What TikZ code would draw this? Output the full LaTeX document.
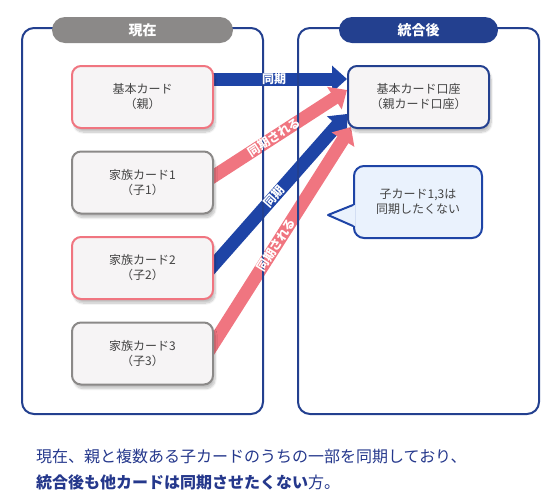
\documentclass[tikz,border=0pt]{standalone}
\usepackage{fontspec}
\setmainfont{Noto Sans CJK JP}
\usetikzlibrary{positioning,arrows.meta,backgrounds,shadows.blur}
\definecolor{waku}{RGB}{35,64,143}
\definecolor{haiiro}{RGB}{139,137,136}
\definecolor{aoya}{RGB}{30,68,166}
\definecolor{momo}{RGB}{240,117,128}
\definecolor{kamifill}{RGB}{246,244,245}
\definecolor{mojiiro}{RGB}{68,68,68}
\definecolor{fukidashi}{RGB}{234,242,253}
\definecolor{setsumeiiro}{RGB}{37,56,140}

\tikzset{
  panel/.style={draw=waku, line width=2pt, rounded corners=12pt, minimum width=241pt, minimum height=386pt},
  pill/.style={rounded corners=13pt, minimum height=26pt, text=white, font=\fontsize{14}{16}\selectfont\bfseries},
  card/.style={fill=kamifill, line width=2pt, rounded corners=9pt, minimum width=141pt, minimum height=62pt,
    align=center, text=mojiiro, font=\fontsize{12}{15}\selectfont,
    blur shadow={shadow xshift=2pt, shadow yshift=-4pt, shadow opacity=25, shadow blur steps=8}},
  oyacard/.style={card, draw=momo},
  kocard/.style={card, draw=haiiro},
  kouzacard/.style={card, draw=waku},
  aoarrow/.style={draw=aoya, line width=13pt, -{Triangle[width=26pt,length=15pt]}},
  momoarrow/.style={draw=momo, line width=13pt, -{Triangle[width=26pt,length=15pt]}},
  yajilabel/.style={text=white, font=\fontsize{12}{12}\selectfont\bfseries, inner sep=0pt, sloped, pos=0.49}
}

\begin{document}
\begin{tikzpicture}[x=1pt,y=-1pt]
  \useasboundingbox (0,0) rectangle (560,499);

  % waku
  \node[panel] (genzai) at (142.5,221) {};
  \node[panel] (tougou) at (418.5,221) {};
  \node[pill, fill=haiiro, minimum width=181pt] (genzaititle) at ([yshift=-3pt]genzai.north) {現在};
  \node[pill, fill=waku, minimum width=159pt] (tougoutitle) at ([yshift=-3pt]tougou.north) {統合後};

  % cards
  \node[oyacard] (kihon) at (142.5,97) {基本カード\\（親）};
  \node[kocard, below=21.5pt of kihon] (kazoku1) {家族カード1\\（子1）};
  \node[oyacard, below=21.5pt of kazoku1] (kazoku2) {家族カード2\\（子2）};
  \node[kocard, below=21.5pt of kazoku2] (kazoku3) {家族カード3\\（子3）};
  \node[kouzacard] (kouza) at (418.5,97) {基本カード口座\\（親カード口座）};

  % fukidashi
  \node[draw=aoya, fill=fukidashi, line width=2pt, rounded corners=10pt, minimum width=128pt, minimum height=72pt,
    align=center, text=mojiiro, font=\fontsize{12}{15}\selectfont] (kibou) at (418,202) {子カード1,3は\\同期したくない};
  \coordinate (saki) at (328,215);
  \fill[fukidashi] ([xshift=2pt,yshift=-3pt]kibou.west) -- (saki) -- ([xshift=2pt,yshift=-24pt]kibou.west) -- cycle;
  \draw[aoya, line width=2pt, line join=round] ([yshift=-3pt]kibou.west) -- (saki) -- ([yshift=-24pt]kibou.west);

  % yajirushi
  \begin{scope}[on background layer]
    \draw[aoarrow] ([xshift=-10pt,yshift=18pt]kihon.east) -- ([yshift=18pt]kouza.west);
    \draw[momoarrow] ([xshift=-10pt]kazoku1.east) -- ([yshift=7pt]kouza.west);
    \draw[aoarrow] ([xshift=-10pt,yshift=-8pt]kazoku2.east) -- ([yshift=-17pt]kouza.west);
    \draw[momoarrow] ([xshift=-10pt,yshift=-5pt]kazoku3.east) -- ([xshift=4pt,yshift=2pt]kouza.south west);
  \end{scope}
  \path ([xshift=-10pt,yshift=18pt]kihon.east) -- node[yajilabel] {同期} ([yshift=18pt]kouza.west);
  \path ([xshift=-10pt]kazoku1.east) -- node[yajilabel] {同期される} ([yshift=7pt]kouza.west);
  \path ([xshift=-10pt,yshift=-8pt]kazoku2.east) -- node[yajilabel] {同期} ([yshift=-17pt]kouza.west);
  \path ([xshift=-10pt,yshift=-5pt]kazoku3.east) -- node[yajilabel] {同期される} ([xshift=4pt,yshift=2pt]kouza.south west);

  \node[anchor=west, align=left, inner sep=0pt, text=setsumeiiro, font=\fontsize{16}{26}\selectfont] (setsumei) at (36,470)
    {現在、親と複数ある子カードのうちの一部を同期しており、\\\textbf{統合後も他カードは同期させたくない}方。};
\end{tikzpicture}
\end{document}
